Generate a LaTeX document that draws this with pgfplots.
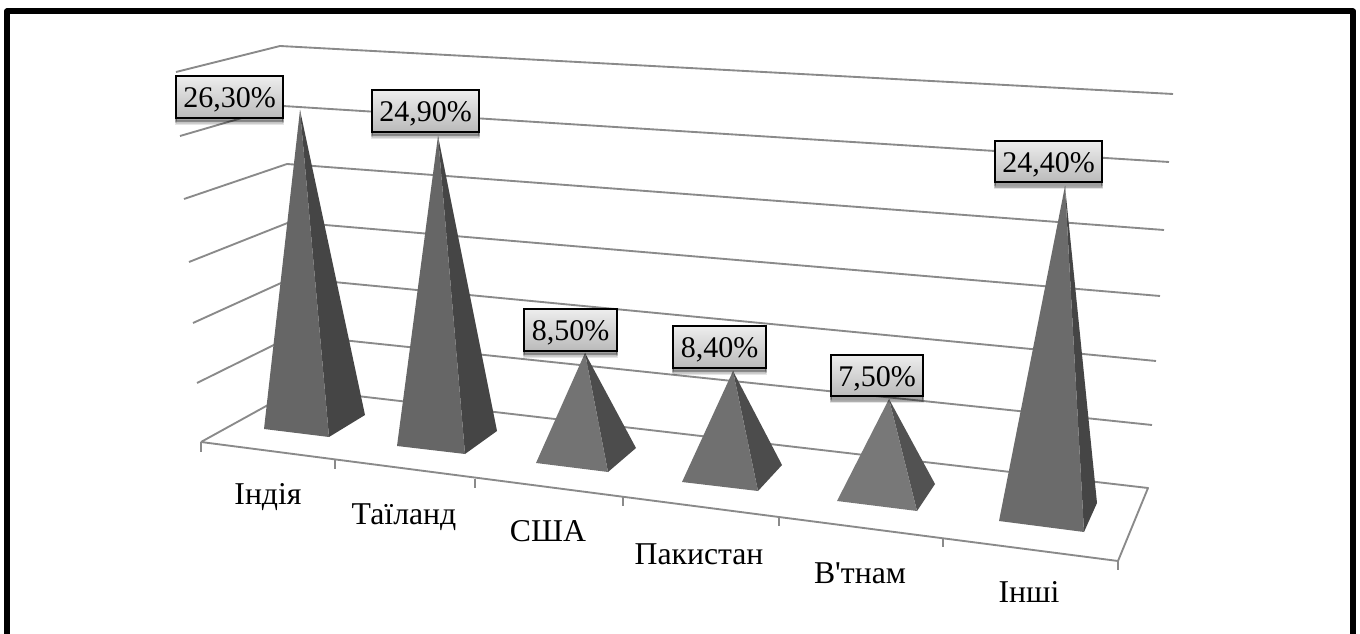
\documentclass[border=0pt]{standalone}
\usepackage{fontspec}
\newfontfamily\lab{Liberation Serif}
\usepackage{pgfplots}
\pgfplotsset{compat=1.18}
\usetikzlibrary{shadows}
\definecolor{gridc}{HTML}{8A8A8A}
\pgfplotsset{
    wall/.style={draw=gridc, line width=1.4pt, mark=none, line join=round},
    front/.style={draw=none, fill=#1, mark=none},
    side/.style={draw=none, fill=#1, mark=none},
}
\tikzset{
    softshadow/.style={
        general shadow={shadow xshift=0pt, shadow yshift=-4.5pt, opacity=.10, fill=black},
        general shadow={shadow xshift=0pt, shadow yshift=-3.5pt, opacity=.14, fill=black},
        general shadow={shadow xshift=0pt, shadow yshift=-2.5pt, opacity=.18, fill=black},
    },
}
\begin{document}
\begin{tikzpicture}
    \begin{axis}[
            scale only axis,
            width=1020pt, height=475.5pt,
            xmin=0, xmax=1360, ymin=0, ymax=634,
            y dir=reverse,
            hide axis,
        ]
        % page
        \addplot[draw=none, fill=white, mark=none] coordinates {(0,0) (1360,0) (1360,634) (0,634)} \closedcycle;
        % frame, open at the bottom
        \addplot[black, line width=4.5pt, mark=none, line join=round] coordinates {(7,650) (7,11.5) (1353,11.5) (1353,650)};

        % walls: left end, back corner, right end
        \addplot[wall] coordinates {(176,72) (280,46) (1173,94)};
        \addplot[wall] coordinates {(180,136) (283,106) (1169,162)};
        \addplot[wall] coordinates {(184,199) (287,164) (1164,230)};
        \addplot[wall] coordinates {(189,262) (290,222) (1160,296)};
        \addplot[wall] coordinates {(193,323) (292,278) (1156,361)};
        \addplot[wall] coordinates {(197,383) (294,335) (1152,425)};
        % floor
        \addplot[wall] coordinates {(201,442) (297,389) (1148,488) (1118,561) (201,442)};
        % ticks
        \addplot[wall] coordinates {(201,442) (201,452)};
        \addplot[wall] coordinates {(335,460) (335,469)};
        \addplot[wall] coordinates {(475,479) (475,488)};
        \addplot[wall] coordinates {(623,497) (623,506)};
        \addplot[wall] coordinates {(779,517) (779,526)};
        \addplot[wall] coordinates {(943,538) (943,547)};
        \addplot[wall] coordinates {(1118,561) (1118,570)};

        % pyramids: side face, then front face
        \addplot[side=black!73] coordinates {(300,110) (329,437) (365,415)};
        \addplot[front=black!60] coordinates {(300,110) (264,429) (329,437)};

        \addplot[side=black!73] coordinates {(438,136) (465,454) (497,431)};
        \addplot[front=black!60] coordinates {(438,136) (397,446) (465,454)};

        \addplot[side=black!70] coordinates {(585,353) (608,472) (636,448)};
        \addplot[front=black!55] coordinates {(585,353) (536,463) (608,472)};

        \addplot[side=black!70] coordinates {(733,371) (758,491) (782,465)};
        \addplot[front=black!56] coordinates {(733,371) (682,482) (758,491)};

        \addplot[side=black!68] coordinates {(889,399) (917,511) (935,484)};
        \addplot[front=black!53] coordinates {(889,399) (837,501) (917,511)};

        \addplot[side=black!73] coordinates {(1065,186) (1084,532) (1097,503)};
        \addplot[front=black!58] coordinates {(1065,186) (999,521) (1084,532)};

        % value labels
        \addplot[only marks, mark=none, point meta=explicit symbolic,
            nodes near coords,
            nodes near coords style={
                anchor=center, font=\lab\fontsize{22.5}{22.5}\selectfont, text=black,
                draw=black, line width=1.4pt, top color=black!7, bottom color=black!27,
                inner xsep=5.5pt, inner ysep=0pt, minimum height=31pt,
                text height=19pt, text depth=2.5pt,
                softshadow,
            },
        ] coordinates {
            (229.5,97) [26,30\%]
            (425.5,111) [24,90\%]
            (570.5,330) [8,50\%]
            (719.5,347) [8,40\%]
            (877,375.5) [7,50\%]
            (1048.5,161.5) [24,40\%]
        };

        % category labels, at their baselines
        \addplot[only marks, mark=none, point meta=explicit symbolic,
            nodes near coords,
            nodes near coords style={
                anchor=base, inner sep=0pt, text=black,
                font=\lab\fontsize{23.8}{23.8}\selectfont,
            },
        ] coordinates {
            (268,504) [Індія]
            (404,524) [Таїланд]
            (548,541) [США]
            (699,564) [Пакистан]
            (860,583) [В'тнам]
            (1029,602) [Інші]
        };
    \end{axis}
\end{tikzpicture}
\end{document}
